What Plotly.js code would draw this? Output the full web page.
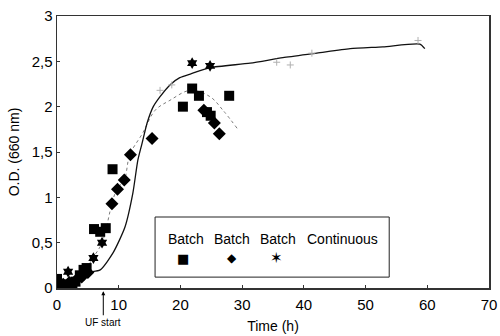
<!DOCTYPE html>
<html>
<head>
<meta charset="utf-8">
<script src="https://cdn.plot.ly/plotly-3.0.1.min.js"></script>
<style>html,body{margin:0;padding:0;background:#fff;}#chart{width:500px;height:336px;}</style>
</head>
<body>
<div id="chart"></div>
<script>
// Series names (legend)
const seriesNames = ["Batch", "Batch", "Batch", "Continuous"];

// Batch 1 (squares)
const sqTime = [0, 0.3, 1, 1.5, 2, 2.5, 3, 3.7, 4.3, 4.8, 6.0, 7.0, 7.9, 9.0, 20.4, 21.9, 23.0, 24.3, 24.9, 27.9];
const sqOD   = [0.10, 0.03, 0.02, 0.03, 0.04, 0.05, 0.07, 0.14, 0.20, 0.22, 0.65, 0.62, 0.66, 1.31, 2.00, 2.20, 2.12, 1.94, 1.90, 2.12];

// Batch 2 (diamonds)
const diTime = [0, 1, 2, 3, 4, 5, 8.9, 9.8, 10.9, 11.9, 15.4, 23.8, 25.5, 26.3];
const diOD   = [0.05, 0.04, 0.06, 0.08, 0.12, 0.17, 0.93, 1.09, 1.19, 1.47, 1.65, 1.96, 1.82, 1.70];

// Batch 3 (stars)
const stTime = [0, 1.8, 5.9, 7.3, 21.9, 24.8];
const stOD   = [0.08, 0.18, 0.33, 0.50, 2.48, 2.45];

// Continuous faint data points
const coTime = [16.7, 18.6, 35.6, 37.8, 41.3, 58.5];
const coOD   = [2.18, 2.24, 2.49, 2.46, 2.59, 2.73];

// Batch fit curve (dotted gray)
const fitTime = [0, 3.7, 5.8, 7.3, 8.9, 9.7, 10.9, 11.8, 13.9, 15.9, 18.3, 21.6, 24.8, 26.9, 29.2];
const fitOD   = [0.00, 0.11, 0.33, 0.50, 0.93, 1.09, 1.19, 1.47, 1.71, 1.96, 2.07, 2.18, 2.11, 1.96, 1.76];

// Continuous model curve (solid black)
const modTime = [0, 2, 4.9, 7.0, 9.1, 11.0, 12.3, 13.1, 13.8, 14.6, 15.6, 16.7, 18.3, 19.9, 21.6, 24.8, 31.3, 36.6, 42.1, 47.5, 52.8, 58.8, 59.6];
const modOD   = [0.00, 0.06, 0.17, 0.20, 0.39, 0.67, 1.05, 1.41, 1.60, 1.82, 2.00, 2.11, 2.24, 2.32, 2.36, 2.43, 2.48, 2.54, 2.59, 2.64, 2.66, 2.69, 2.64];

// Axis ticks
const xTicks = [0, 10, 20, 30, 40, 50, 60, 70];
const yTicks = [0, 0.5, 1, 1.5, 2, 2.5, 3];
const yTickText = ["0", "0,5", "1", "1,5", "2", "2,5", "3"];

const font = "Liberation Sans, Arial, sans-serif";

const traces = [
  {x: fitTime, y: fitOD, mode: "lines", line: {color: "#7a7a7a", width: 1, dash: "dot", shape: "spline"}, hoverinfo: "skip"},
  {x: modTime, y: modOD, mode: "lines", line: {color: "#111", width: 1.3, shape: "spline", smoothing: 0.6}, hoverinfo: "skip"},
  {x: coTime, y: coOD, mode: "markers", marker: {symbol: "cross-thin-open", size: 5, color: "#b0b0b0", line: {color: "#b0b0b0", width: 1}}},
  {x: sqTime, y: sqOD, mode: "markers", marker: {symbol: "square", size: 10, color: "#000"}},
  {x: diTime, y: diOD, mode: "markers", marker: {symbol: "diamond", size: 10, color: "#000"}},
  {x: stTime, y: stOD, mode: "markers", marker: {symbol: "hexagram", size: 9, color: "#000"}}
];

// legend geometry in paper coords
const lgX0 = 0.227, lgX1 = 0.769, lgY0 = 0.040, lgY1 = 0.261;
const lgNameX = [0.299, 0.405, 0.512, 0.661];
const lgGlyphs = ["\u25A0", "\u25C6", "\u2736"];
const lgGlyphX = [0.292, 0.405, 0.509];
const lgGlyphSize = [13, 12, 15];

const annotations = [];
seriesNames.forEach((n, i) => annotations.push({
  xref: "paper", yref: "paper", x: lgNameX[i], y: 0.180, text: n, showarrow: false,
  font: {family: font, size: 14, color: "#000"}, xanchor: "center", yanchor: "middle"
}));
lgGlyphs.forEach((g, i) => annotations.push({
  xref: "paper", yref: "paper", x: lgGlyphX[i], y: 0.110, text: g, showarrow: false,
  font: {family: "DejaVu Sans", size: lgGlyphSize[i], color: "#000"}, xanchor: "center", yanchor: "middle"
}));
annotations.push({
  xref: "x", yref: "paper", x: 7.5, y: -0.012, text: "UF start", showarrow: true,
  arrowhead: 2, arrowsize: 0.8, arrowwidth: 1, arrowcolor: "#000", ax: 0, ay: 31,
  font: {family: font, size: 10, color: "#000"}
});

const layout = {
  width: 500, height: 336,
  margin: {l: 57, r: 11, t: 16, b: 48},
  paper_bgcolor: "#fff", plot_bgcolor: "#fff",
  showlegend: false,
  font: {family: font, size: 14, color: "#000"},
  xaxis: {
    range: [0, 70], tickvals: xTicks, ticktext: xTicks.map(String),
    showgrid: false, zeroline: false, showline: true, mirror: true,
    linecolor: "#333", linewidth: 1.5, ticks: "inside", ticklen: 3, tickcolor: "#333",
    tickfont: {family: font, size: 15}, ticklabelstandoff: 2,
    title: {text: "Time (h)", font: {family: font, size: 14}, standoff: 9}
  },
  yaxis: {
    range: [0, 3], tickvals: yTicks, ticktext: yTickText,
    showgrid: false, zeroline: false, showline: true, mirror: true,
    linecolor: "#333", linewidth: 1.5, ticks: "inside", ticklen: 3, tickcolor: "#333",
    tickfont: {family: font, size: 15},
    title: {text: "O.D. (660 nm)", font: {family: font, size: 14}, standoff: 8}
  },
  shapes: [{type: "rect", xref: "paper", yref: "paper", x0: lgX0, x1: lgX1, y0: lgY0, y1: lgY1,
            line: {color: "#222", width: 1}, fillcolor: "#fff", layer: "above"}],
  annotations: annotations
};

Plotly.newPlot("chart", traces, layout, {displayModeBar: false, staticPlot: true});
</script>
</body>
</html>
